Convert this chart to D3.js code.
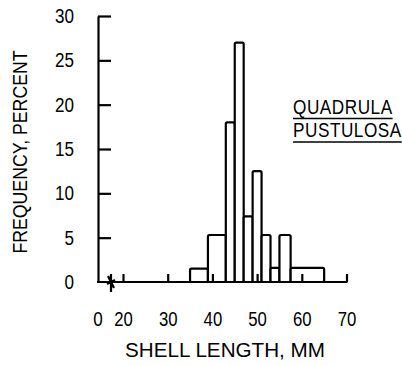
<!DOCTYPE html>
<html>
<head>
<meta charset="utf-8">
<script src="https://cdn.jsdelivr.net/npm/d3@7"></script>
<style>
    body { margin: 0; background: #fff; }
    svg { display: block; }
    text { font-family: "Liberation Sans", Arial, sans-serif; fill: #000; }
    .axis line, .axis path { stroke: #000; stroke-width: 2.2; }
</style>
</head>
<body>
<div id="wrapper"></div>
<script>
// histogram bins (shell length, mm) and frequency (percent)
const binStarts = [35, 39, 43, 45, 47, 49, 51, 53, 55, 57.5];
const binEnds   = [39, 43, 45, 47, 49, 51, 53, 55, 57.5, 65];
const frequency = [1.5, 5.3, 18, 27, 7.4, 12.5, 5.3, 1.6, 5.3, 1.6];

const xTicks = [20, 30, 40, 50, 60, 70];
const yTicks = [0, 5, 10, 15, 20, 25, 30];
const speciesLines = ["QUADRULA", "PUSTULOSA"];

const bins = binStarts.map((d, i) => ({x0: d, x1: binEnds[i], value: frequency[i]}));

// squeeze text to look like a condensed face
function condense(sel, perChar) {
    sel.each(function() {
        const n = this.textContent.length;
        d3.select(this)
            .attr("textLength", n * perChar)
            .attr("lengthAdjust", "spacingAndGlyphs");
    });
}

function draw() {
    const width = 402;
    const height = 365;
    const originX = 98;

    const svg = d3.select("#wrapper")
        .append("svg")
        .attr("width", width)
        .attr("height", height);

    const xScale = d3.scaleLinear()
        .domain([20, 70])
        .range([123, 346.5]);

    const yScale = d3.scaleLinear()
        .domain([0, 30])
        .range([282, 16]);

    // bars
    svg.append("g")
        .selectAll("rect")
        .data(bins)
        .join("rect")
        .attr("x", d => xScale(d.x0))
        .attr("y", d => yScale(d.value))
        .attr("width", d => xScale(d.x1) - xScale(d.x0))
        .attr("height", d => yScale(0) - yScale(d.value))
        .attr("rx", 1.5)
        .attr("fill", "#fff")
        .attr("stroke", "#000")
        .attr("stroke-width", 2.2);

    // y axis, ticks pointing inward
    const yAxis = svg.append("g")
        .attr("class", "axis")
        .attr("transform", `translate(${originX},0)`)
        .call(d3.axisLeft(yScale)
            .tickValues(yTicks)
            .tickSizeInner(-13)
            .tickSizeOuter(0)
            .tickPadding(24));
    yAxis.selectAll(".tick text").style("font-size", "20px").call(condense, 9.5);
    yAxis.selectAll(".tick").filter(d => d === 0).select("line").remove();

    // x axis: ticks upward, baseline starts at the y axis
    const xAxis = svg.append("g")
        .attr("class", "axis")
        .attr("transform", `translate(0,${yScale(0)})`)
        .call(d3.axisBottom(xScale)
            .tickValues(xTicks)
            .tickSizeInner(-8)
            .tickSizeOuter(0)
            .tickPadding(30));
    xAxis.select(".domain").remove();
    xAxis.selectAll(".tick text").style("font-size", "20px").call(condense, 9.3);

    xAxis.append("line")
        .attr("x1", originX - 1)
        .attr("x2", xScale(70) + 1)
        .attr("y1", 0)
        .attr("y2", 0);

    xAxis.append("text")
        .attr("x", originX)
        .attr("y", 30)
        .attr("dy", "0.71em")
        .attr("text-anchor", "middle")
        .style("font-size", "20px")
        .text("0")
        .call(condense, 9.5);

    // axis break mark
    const bx = originX + 13;
    xAxis.append("path")
        .attr("d", `M${bx - 3},-6 L${bx + 3},6 M${bx - 4},2 L${bx + 4},-2 M${bx},-8 L${bx},10`)
        .attr("fill", "none")
        .attr("stroke", "#000")
        .attr("stroke-width", 2);

    // axis titles
    svg.append("text")
        .attr("x", 225)
        .attr("y", 357)
        .attr("text-anchor", "middle")
        .style("font-size", "20px")
        .attr("textLength", 200)
        .attr("lengthAdjust", "spacingAndGlyphs")
        .text("SHELL LENGTH, MM");

    svg.append("text")
        .attr("transform", "translate(27,152) rotate(-90)")
        .attr("text-anchor", "middle")
        .style("font-size", "20px")
        .attr("textLength", 203)
        .attr("lengthAdjust", "spacingAndGlyphs")
        .text("FREQUENCY, PERCENT");

    // species label, each line underlined; group squeezed horizontally
    const label = svg.append("g").attr("transform", "translate(293,0) scale(0.86,1)");
    speciesLines.forEach((s, i) => {
        const t = label.append("text")
            .attr("x", 0)
            .attr("y", 114 + i * 23.5)
            .style("font-size", "20px")
            .style("letter-spacing", "0.6px")
            .text(s);
        const w = t.node().getComputedTextLength();
        label.append("line")
            .attr("x1", 0)
            .attr("x2", w)
            .attr("y1", 118.5 + i * 23.5)
            .attr("y2", 118.5 + i * 23.5)
            .attr("stroke", "#000")
            .attr("stroke-width", 1.6);
    });
}
draw();
</script>
</body>
</html>
